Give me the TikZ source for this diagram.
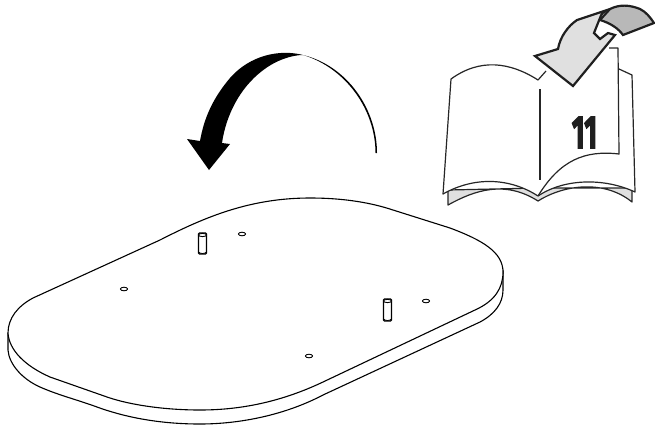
\documentclass[tikz,border=0pt]{standalone}
\usepackage{fontspec}
\usepackage{tikz}
\newfontfamily\numfont[FakeBold=3.5]{Fira Sans Bold}

\begin{document}
\begin{tikzpicture}[
  x=1pt, y=-1pt,
  edge/.style={draw=black, line width=1.1pt, line join=round},
  page/.style={draw=black!85, line width=1.2pt, line join=round},
  fold/.style={draw=black!88, line width=2.2pt, line join=miter},
  hole/.style={draw=black, line width=0.9pt, fill=white},
  pin/.style={draw=black, line width=1.1pt, fill=white, rounded corners=1pt}
]
\useasboundingbox (0,0) rectangle (655,432);

% board
\path[edge, fill=white] (8,333) -- (8,350) .. controls (9,364) and (22,379) .. (40,387)
  .. controls (58,395) and (78,400) .. (97,407) .. controls (130,419) and (165,424) .. (200,424)
  .. controls (240,424) and (285,415) .. (323,395) -- (480,322)
  .. controls (495,314) and (503,303) .. (503,290) -- (503,270) -- cycle;
\path[edge, fill=white] (8,333) .. controls (8,318) and (18,306) .. (33,298)
  -- (160,240) .. controls (205,217) and (250,198) .. (310,198)
  .. controls (345,198) and (372,203) .. (393,210)
  -- (450,228) .. controls (482,240) and (503,252) .. (503,272)
  .. controls (503,288) and (495,301) .. (475,310)
  -- (323,382) .. controls (285,400) and (245,410) .. (200,410)
  .. controls (165,410) and (130,405) .. (107,397)
  -- (50,377) .. controls (25,366) and (9,350) .. (8,333) -- cycle;

% holes
\foreach \hx/\hy in {242/234, 124/289, 426/301, 309/356}
  \draw[hole] (\hx,\hy) ellipse (3.6 and 1.8);

% pins
\foreach \px/\py/\plen in {202.5/233/21, 387.5/299/22} {
  \draw[pin] (\px-4,\py) rectangle (\px+4,\py+\plen);
  \draw[hole] (\px,\py+2) ellipse (4 and 1.6);
  \draw[line width=0.8pt] (\px-4,\py+\plen-2) .. controls (\px-2,\py+\plen) and (\px+2,\py+\plen) .. (\px+4,\py+\plen-2);
}

% turn over arrow
\fill[black] (377,153) .. controls (377,110) and (348,66) .. (303,55)
  .. controls (280,49) and (250,55) .. (230,78)
  .. controls (213,98) and (204,118) .. (200,141)
  -- (187,139) -- (209,170) -- (230,144) -- (222,143)
  .. controls (226,115) and (240,88) .. (262,71)
  .. controls (276,60) and (292,55) .. (303,55)
  .. controls (346,68) and (375.5,110) .. (375.5,153) -- cycle;

% book
\path[page, fill=black!12] (448,190) -- (448,205) .. controls (475,190) and (505,180) .. (538,201)
  .. controls (565,184) and (605,180) .. (632,202) -- (632,188) -- (539,188) -- cycle;
\fill[white] (451,79) .. controls (480,58) and (510,62) .. (538,80) -- (546,71)
  -- (619,69) -- (632,75) -- (635,192)
  .. controls (605,178) and (565,178) .. (538,196)
  .. controls (510,178) and (475,176) .. (443,194) -- cycle;
\draw[page] (538,196) .. controls (510,178) and (475,176) .. (443,194) -- (451,79)
  .. controls (480,58) and (510,62) .. (538,80) -- (546,71);
\draw[page] (538,196) .. controls (565,178) and (605,178) .. (635,192) -- (632,75) -- (619,69);
\draw[page, fill=white] (609,48) -- (618,48) -- (619,154)
  .. controls (585,150) and (560,160) .. (538,196);
\draw[page] (540,89) -- (540,180);
\node[inner sep=0pt, text=black!88] (pagenum) at (584.5,132.5)
  {\scalebox{0.6}[1]{\numfont\fontsize{46}{46}\selectfont 11}};

% small arrow
\path[fold, fill=black!28] (610,9) .. controls (620,4) and (630,5) .. (640,9)
  .. controls (646,12) and (650,17) .. (654,23) -- (623,35)
  .. controls (618,28) and (610,23) .. (600,20) -- cycle;
\path[fold, fill=black!12] (535,56) -- (558,49)
  .. controls (560,37) and (568,26) .. (577,20) -- (610,9)
  .. controls (604,11) and (601,14) .. (600,18)
  -- (594,33) -- (600,39) -- (608,33) -- (615,35)
  -- (573,86) -- cycle;
\end{tikzpicture}
\end{document}
